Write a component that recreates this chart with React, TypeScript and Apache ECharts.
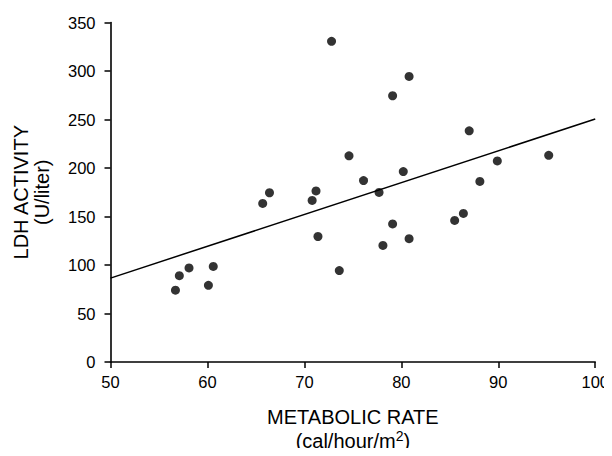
import React, { useEffect, useRef } from "react";
import * as echarts from "echarts";

const metabolicRate = [
  56.7, 57.1, 58.1, 60.1, 60.6, 65.7, 66.4, 70.8, 71.2, 71.4, 72.8, 73.6, 74.6, 76.1,
  77.7, 78.1, 79.1, 79.1, 80.2, 80.8, 80.8, 85.5, 86.4, 87.0, 88.1, 89.9, 95.2,
];
const ldhActivity = [
  74, 89, 97, 79, 98.5, 163.5, 174.5, 166.6, 176.4, 129.4, 330.6, 94.3, 212.5, 187,
  174.8, 120.2, 142.3, 274.5, 196.3, 127.1, 294.4, 146, 153.2, 238.3, 186.2, 207.3, 213.1,
];
const fitX = [50, 100];
const fitY = [86.5, 250.5];
const xTicks = { min: 50, max: 100, interval: 10 };
const yTicks = { min: 0, max: 350, interval: 50 };

const FONT = "'Liberation Sans', Arial, Helvetica, sans-serif";

export default function App() {
  const ref = useRef<HTMLDivElement>(null);
  useEffect(() => {
    if (!ref.current) return;
    const chart = echarts.init(ref.current, null, { renderer: "svg" });
    const axisLine = { show: true, lineStyle: { color: "#000", width: 1.6 } };
    chart.setOption({
      animation: false,
      backgroundColor: "#fff",
      grid: { left: 110.5, right: 16, top: 22.5, bottom: 93.5, containLabel: false },
      xAxis: {
        type: "value",
        min: xTicks.min,
        max: xTicks.max,
        interval: xTicks.interval,
        axisLine,
        axisTick: { show: true, inside: false, length: 6, lineStyle: { color: "#000", width: 1.5 } },
        splitLine: { show: false },
        axisLabel: { color: "#000", fontSize: 16.5, fontFamily: FONT, margin: 11 },
        name: "{t|METABOLIC RATE}\n{t|(cal/hour/m}{s|2}{t|)}",
        nameLocation: "middle",
        nameGap: 43,
        nameTextStyle: {
          rich: {
            t: { fontSize: 20, fontFamily: FONT, color: "#000", lineHeight: 24 },
            s: { fontSize: 14, fontFamily: FONT, color: "#000", lineHeight: 10, verticalAlign: "top" },
          },
        },
      },
      yAxis: {
        type: "value",
        min: yTicks.min,
        max: yTicks.max,
        interval: yTicks.interval,
        axisLine,
        axisTick: { show: true, inside: false, length: 6, lineStyle: { color: "#000", width: 1.5 } },
        splitLine: { show: false },
        axisLabel: { color: "#000", fontSize: 16.5, fontFamily: FONT, margin: 15 },
        name: "LDH ACTIVITY\n(U/liter)",
        nameLocation: "middle",
        nameGap: 58,
        nameTextStyle: { fontSize: 20, fontFamily: FONT, color: "#000", lineHeight: 21 },
      },
      series: [
        {
          type: "line",
          data: fitX.map((x, i) => [x, fitY[i]]),
          symbol: "none",
          lineStyle: { color: "#000", width: 1.5 },
          silent: true,
          z: 1,
        },
        {
          type: "scatter",
          data: metabolicRate.map((x, i) => [x, ldhActivity[i]]),
          symbol: "circle",
          symbolSize: 9,
          itemStyle: { color: "#000" },
          z: 2,
        },
      ],
    });
    return () => chart.dispose();
  }, []);
  return <div ref={ref} style={{ width: 612, height: 456, margin: -8 }} />;
}
